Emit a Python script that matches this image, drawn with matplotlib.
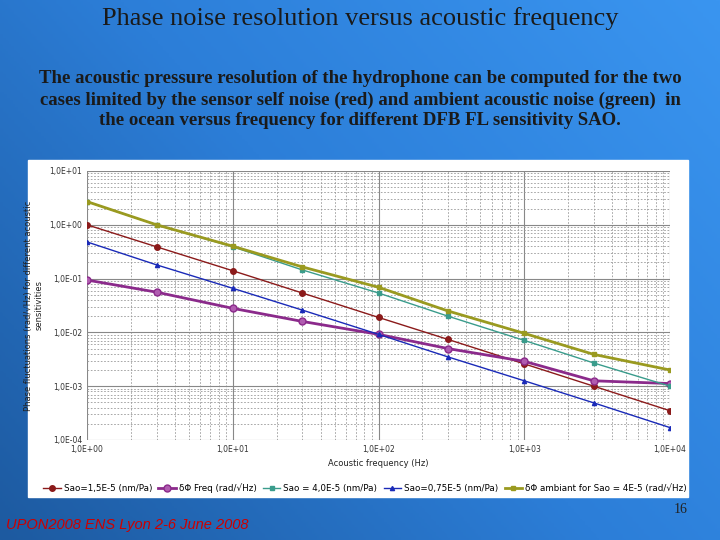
import matplotlib
matplotlib.use("Agg")
import matplotlib.pyplot as plt
import numpy as np
from matplotlib.patches import Rectangle
from matplotlib.colors import LinearSegmentedColormap

freq = [1, 3, 10, 30, 100, 300, 1000, 3000, 10000]
red = [1.0, 0.39, 0.14, 0.054, 0.019, 0.0074, 0.0026, 0.001, 0.00035]
purple = [0.094, 0.056, 0.028, 0.016, 0.0092, 0.005, 0.0029, 0.00126, 0.00112]
teal = [2.7, 1.0, 0.39, 0.145, 0.054, 0.02, 0.0071, 0.0027, 0.001]
blue = [0.48, 0.18, 0.066, 0.026, 0.0092, 0.0035, 0.00126, 0.00049, 0.00017]
olive = [2.7, 1.0, 0.40, 0.165, 0.069, 0.025, 0.0096, 0.0039, 0.002]
labels = ["Sao=1,5E-5 (nm/Pa)", "δΦ Freq (rad/√Hz)", "Sao = 4,0E-5 (nm/Pa)",
          "Sao=0,75E-5 (nm/Pa)", "δΦ ambiant for Sao = 4E-5 (rad/√Hz)"]
xticklabels = ["1,0E+00", "1,0E+01", "1,0E+02", "1,0E+03", "1,0E+04"]
yticklabels = ["1,0E-04", "1,0E-03", "1,0E-02", "1,0E-01", "1,0E+00", "1,0E+01"]

fig = plt.figure(figsize=(7.2, 5.4), dpi=100)
bg = fig.add_axes([0, 0, 1, 1])
xx = np.linspace(0, 1, 256)[None, :]
yy = np.linspace(0, 1, 256)[:, None]
img = 0.6 * xx + 0.4 * (1 - yy)
bg.imshow(img, cmap=LinearSegmentedColormap.from_list("v", ["#1d5aa0", "#2c7ed8", "#3a95f0"]),
          aspect="auto", extent=[0, 1, 0, 1], origin="upper")
bg.add_patch(Rectangle((28/720, 1-497/540), 660/720, 337/540, color="white"))
bg.set_xlim(0, 1); bg.set_ylim(0, 1); bg.axis("off")

fig.text(0.5, 0.965, "Phase noise resolution versus acoustic frequency", ha="center", va="center",
         fontsize=19, family="Liberation Serif", color="#1a1a1a")
fig.text(0.5, 0.815, "The acoustic pressure resolution of the hydrophone can be computed for the two\n"
         "cases limited by the sensor self noise (red) and ambient acoustic noise (green)  in\n"
         "the ocean versus frequency for different DFB FL sensitivity SAO.",
         ha="center", va="center", fontsize=13.5, family="Liberation Serif", fontweight="bold",
         color="#1a1a1a", linespacing=1.3)
fig.text(0.008, 0.028, "UPON2008 ENS Lyon 2-6 June 2008", color="#cc0000", fontsize=10.5,
         style="italic", family="Liberation Sans", va="center")
fig.text(0.945, 0.05, "16", color="#222222", fontsize=10, family="Liberation Serif", ha="center")

ax = fig.add_axes([87/720, 1-440/540, 583/720, 269/540])
ax.set_xscale("log"); ax.set_yscale("log")
ax.set_xlim(1, 1e4); ax.set_ylim(1e-4, 10)
ax.plot(freq, red, color="#8b1a1a", lw=1, marker="o", ms=4, label=labels[0])
ax.plot(freq, purple, color="#8b2a8b", lw=2, marker="o", ms=5, mfc="#b05cb0", label=labels[1])
ax.plot(freq, teal, color="#3a9c8c", lw=1, marker="s", ms=2.5, label=labels[2])
ax.plot(freq, blue, color="#1a2ab8", lw=1, marker="^", ms=3, label=labels[3])
ax.plot(freq, olive, color="#9a9a20", lw=2, marker="s", ms=2.5, label=labels[4])
ax.grid(True, which="major", color="#888888", lw=0.8)
ax.grid(True, which="minor", color="#999999", lw=0.6, ls=(0, (2, 2)))
for s in ax.spines.values():
    s.set_visible(False)
ax.set_xticks([1, 10, 100, 1000, 10000]); ax.set_xticklabels(xticklabels)
ax.set_yticks([1e-4, 1e-3, 1e-2, 1e-1, 1, 10]); ax.set_yticklabels(yticklabels)
ax.tick_params(which="both", length=0, labelsize=5.5, labelcolor="#333333")
ax.set_xlabel("Acoustic frequency (Hz)", fontsize=6, color="#222222", labelpad=4)
ax.set_ylabel("Phase fluctuations (rad/√Hz) for different acoustic\nsensitivities", fontsize=6,
              color="#222222")
fig.legend(*ax.get_legend_handles_labels(), loc="center", bbox_to_anchor=(365/720, 1-488/540),
           ncol=5, frameon=False, fontsize=6.3, handlelength=2.0, columnspacing=0.7,
           handletextpad=0.35, borderaxespad=0, borderpad=0)
fig.savefig("out.png", dpi=100)
